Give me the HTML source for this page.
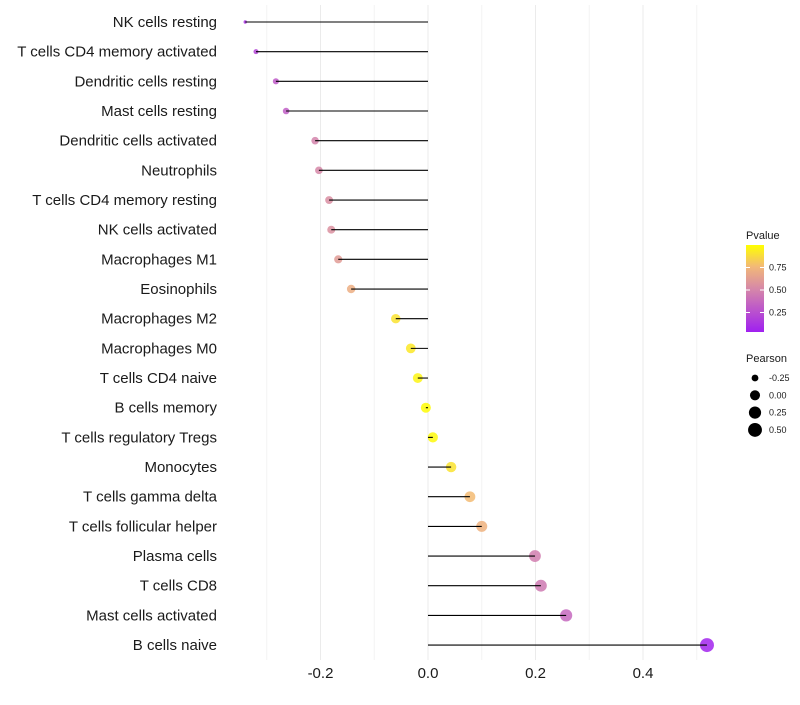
<!DOCTYPE html>
<html><head><meta charset="utf-8"><style>
body{margin:0;background:#fff;font-family:"Liberation Sans",sans-serif;}
</style></head><body>
<svg id="chart" width="800" height="700" xmlns="http://www.w3.org/2000/svg"></svg>
<script>
const categories=["NK cells resting","T cells CD4 memory activated","Dendritic cells resting","Mast cells resting","Dendritic cells activated","Neutrophils","T cells CD4 memory resting","NK cells activated","Macrophages M1","Eosinophils","Macrophages M2","Macrophages M0","T cells CD4 naive","B cells memory","T cells regulatory  Tregs ","Monocytes","T cells gamma delta","T cells follicular helper","Plasma cells","T cells CD8","Mast cells activated","B cells naive"];
const pearson=[-0.340,-0.320,-0.283,-0.264,-0.210,-0.203,-0.184,-0.180,-0.167,-0.143,-0.060,-0.032,-0.019,-0.004,0.009,0.043,0.078,0.100,0.199,0.210,0.257,0.519];
const pvalue=[0.08,0.18,0.28,0.30,0.48,0.50,0.53,0.54,0.60,0.70,0.90,0.92,0.96,0.99,0.98,0.90,0.76,0.72,0.45,0.43,0.35,0.02];
const xTicks=[-0.2,0.0,0.2,0.4];
const xTickLabels=["-0.2","0.0","0.2","0.4"];
const pLegendTicks=[0.25,0.5,0.75];
const sizeLegend=[-0.25,0,0.25,0.5];

const svg=document.getElementById('chart');
const NS="http://www.w3.org/2000/svg";
const x=v=>428+v*537.5;
const y=i=>22+i*29.67;
const rad=v=>1.7+5.3*Math.sqrt(Math.max(0,(v+0.34)/0.86));
function mk(t,a,p){const e=document.createElementNS(NS,t);for(const k in a)e.setAttribute(k,a[k]);(p||svg).appendChild(e);return e;}
const stops=[[0,[160,32,240]],[0.5,[214,136,168]],[0.75,[242,184,120]],[1,[255,255,0]]];
function col(p){for(let i=1;i<stops.length;i++){if(p<=stops[i][0]){const a=stops[i-1],b=stops[i];const t=(p-a[0])/(b[0]-a[0]);return 'rgb('+a[1].map((c,j)=>Math.round(c+(b[1][j]-c)*t)).join(',')+')';}}return 'rgb(255,255,0)';}
// grid
for(let k=-3;k<=5;k++){const v=k/10;const major=k%2===0;
 const g=mk('line',{x1:x(v),x2:x(v),y1:5,y2:660,stroke:major?'#ebebeb':'#f3f3f3','stroke-width':1});
 }
categories.forEach((c,i)=>{
 const t=mk('text',{x:217,y:y(i)+5,'text-anchor':'end','font-size':15,fill:'#1a1a1a'});t.textContent=c;
 
 const d=mk('circle',{cx:x(pearson[i]),cy:y(i),r:rad(pearson[i]),fill:col(pvalue[i]),'fill-opacity':0.85});
 
 const l=mk('line',{x1:x(0),x2:x(pearson[i]),y1:y(i),y2:y(i),stroke:'#000','stroke-width':1.1});
 
});
xTicks.forEach((v,i)=>{const t=mk('text',{x:x(v),y:678,'text-anchor':'middle','font-size':15,fill:'#1a1a1a'});t.textContent=xTickLabels[i];
 });
// color legend
let t=mk('text',{x:746,y:239,'font-size':11,fill:'#1a1a1a'});t.textContent='Pvalue';

const defs=mk('defs',{});const lg=mk('linearGradient',{id:'pg',x1:0,y1:1,x2:0,y2:0},defs);
for(let p=0;p<=1.001;p+=0.05)mk('stop',{offset:p,'stop-color':col(p)},lg);
const bar=mk('rect',{x:746,y:245,width:18,height:87,fill:'url(#pg)'});

const py=p=>335-p*90;
pLegendTicks.forEach(p=>{mk('line',{x1:746,x2:750,y1:py(p),y2:py(p),stroke:'#fff'});mk('line',{x1:760,x2:764,y1:py(p),y2:py(p),stroke:'#fff'});
 const tt=mk('text',{x:769,y:py(p)+3,'font-size':9,fill:'#1a1a1a'});tt.textContent=p.toFixed(2);
 });
// size legend
t=mk('text',{x:746,y:362,'font-size':11,fill:'#1a1a1a'});t.textContent='Pearson';

sizeLegend.forEach((v,i)=>{const cy=378+i*17.3;
 const c=mk('circle',{cx:755,cy:cy,r:rad(v),fill:'#000'});
 const tt=mk('text',{x:769,y:cy+3,'font-size':9,fill:'#1a1a1a'});tt.textContent=v.toFixed(2);
 });
</script>
</body></html>
